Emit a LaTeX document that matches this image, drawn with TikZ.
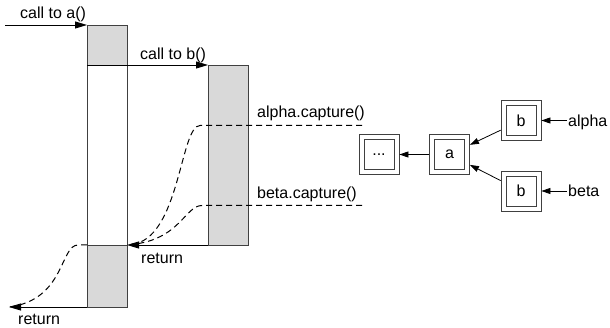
\documentclass[tikz,border=0pt]{standalone}
\usepackage{fontspec}
\setmainfont{Liberation Sans}
\usetikzlibrary{arrows.meta}
\definecolor{boxgray}{HTML}{D9D9D9}
\definecolor{edgegray}{HTML}{404040}
\begin{document}
\begin{tikzpicture}[x=1pt,y=-1pt,
  every node/.style={font=\fontsize{16}{19}\selectfont},
  colbox/.style={draw=edgegray, line width=0.9pt, minimum width=40pt, inner sep=0pt, outer sep=0pt, anchor=north west},
  arr/.style={line width=0.9pt, -{Triangle[length=12pt,width=7pt]}},
  sarr/.style={line width=0.8pt, -{Triangle[length=9pt,width=6pt]}},
  dsh/.style={line width=1pt, dash pattern=on 6pt off 4pt},
  lbl/.style={inner sep=0pt, anchor=base west},
  obox/.style={draw=edgegray, fill=white, line width=0.8pt, minimum size=40pt, inner sep=0pt, outer sep=0.4pt},
  ibox/.style={draw=edgegray, line width=0.8pt, minimum size=30pt, inner sep=0pt},
  rlbl/.style={inner sep=1pt, anchor=west, text height=11.5pt, text depth=0pt}]
\useasboundingbox (0,0) rectangle (610,328);
% activation columns
\node[colbox, fill=boxgray, minimum height=40pt] (atop) at (87,25) {};
\node[colbox, minimum height=180pt] (amid) at (87,65) {};
\node[colbox, fill=boxgray, minimum height=62pt] (abot) at (87,245) {};
\node[colbox, fill=boxgray, minimum height=180pt] (bcol) at (208,65) {};
% free ends
\coordinate (callA) at (5,25);
\coordinate (retEnd) at (9,307);
\coordinate (acapR) at (362,125.5);
\coordinate (acapL) at (200,125.5);
\coordinate (bcapR) at (362,205.5);
\coordinate (bcapL) at (202,205.5);
\coordinate (retJoin) at (131,244.5);
% labels
\node[lbl] (lcalla) at (20,19) {call to a()};
\node[lbl] (lcallb) at (140,60) {call to b()};
\node[lbl] (lacap) at (257,118) {alpha.capture()};
\node[lbl] (lbcap) at (257,199) {beta.capture()};
\node[lbl] (lret1) at (141,264) {return};
\node[lbl] (lret2) at (18,324) {return};
% solid arrows
\draw[arr] (callA) -- (atop.north west);
\draw[arr] (atop.south west) -- (bcol.north west);
\draw[arr] (bcol.south west) -- (abot.north east);
\draw[arr] (abot.south west) -- (retEnd);
% dashed capture paths
\draw[dsh] (acapR) -- (acapL) .. controls (180,125.5) and (180,240) .. (retJoin);
\draw[dsh] (bcapR) -- (bcapL) .. controls (185,205.5) and (180,240) .. (retJoin);
\draw[dsh] (abot.north west) -- (78,245) .. controls (60,245) and (65,300) .. (retEnd);
% right diagram
\node[obox] (dots) at (379,154.5) {};
\node[ibox] (dotsin) at (dots) {...};
\node[obox] (na) at (449.5,154.5) {};
\node[ibox] (nain) at (na) {a};
\node[obox] (nb1) at (521,120.5) {};
\node[ibox] (nb1in) at (nb1) {b};
\node[obox] (nb2) at (521,191) {};
\node[ibox] (nb2in) at (nb2) {b};
\node[rlbl] (lalpha) at (567,120.5) {alpha};
\node[rlbl] (lbeta) at (567,191) {beta};
\draw[sarr] (na) -- (dots);
\draw[sarr] (nb1) -- (na);
\draw[sarr] (nb2) -- (na);
\draw[sarr] (lalpha.west) -- (nb1.east);
\draw[sarr] (lbeta.west) -- (nb2.east);
\end{tikzpicture}
\end{document}
